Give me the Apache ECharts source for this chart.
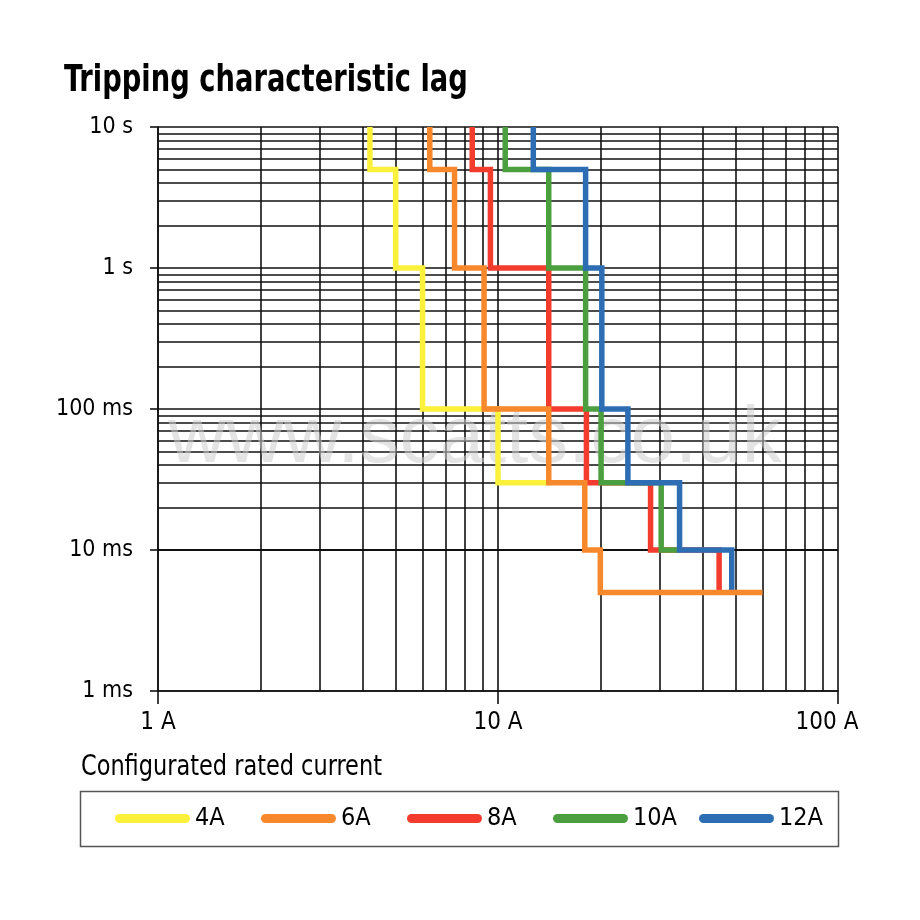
<!DOCTYPE html>
<html>
<head>
<meta charset="utf-8">
<title>Tripping characteristic lag</title>
<script src="https://cdn.jsdelivr.net/npm/echarts@6/dist/echarts.min.js"></script>
<style>
  html, body { margin: 0; padding: 0; background: #fff; }
  #chart { width: 920px; height: 920px; }
</style>
</head>
<body>
<div id="chart"></div>
<script>
var FONT = "'Liberation Sans Narrow', 'DejaVu Sans Condensed', 'Arial Narrow', sans-serif";

// rated current names
var ratings = ['4A', '6A', '8A', '10A', '12A'];
var colors = ['#fbf03a', '#f8882c', '#f33b2e', '#4b9f3f', '#2c6db4'];

// step curves: current (A) and tripping time (s)
var amps4  = [4.2, 4.2, 5, 5, 6, 6, 10, 10, 14.2];
var secs4  = [10, 5, 5, 1, 1, 0.1, 0.1, 0.03, 0.03];

var amps6  = [6.3, 6.3, 7.45, 7.45, 9.1, 9.1, 14.1, 14.1, 18, 18, 20, 20, 60];
var secs6  = [10, 5, 5, 1, 1, 0.1, 0.1, 0.03, 0.03, 0.01, 0.01, 0.005, 0.005];

var amps8  = [8.4, 8.4, 9.5, 9.5, 14.1, 14.1, 18.2, 18.2, 28.1, 28.1, 44.7, 44.7];
var secs8  = [10, 5, 5, 1, 1, 0.1, 0.1, 0.03, 0.03, 0.01, 0.01, 0.005];

var amps10 = [10.5, 10.5, 14.1, 14.1, 18.1, 18.1, 20.1, 20.1, 30.2, 30.2, 34.2];
var secs10 = [10, 5, 5, 1, 1, 0.1, 0.1, 0.03, 0.03, 0.01, 0.01];

var amps12 = [12.7, 12.7, 18.1, 18.1, 20.2, 20.2, 24.1, 24.1, 34.2, 34.2, 48.7, 48.7];
var secs12 = [10, 5, 5, 1, 1, 0.1, 0.1, 0.03, 0.03, 0.01, 0.01, 0.005];

// axis decades and labels
var xDecades = [1, 10];
var yDecades = [0.001, 0.01, 0.1, 1];
var minorSteps = [2, 3, 4, 5, 6, 7, 8, 9];
var yTickLabels = { 0.001: '1 ms', 0.01: '10 ms', 0.1: '100 ms', 1: '1 s', 10: '10 s' };

var GRID_W = 1.6;

var myChart = echarts.init(document.getElementById('chart'));

function pairs(xs, ys) {
  var out = [];
  for (var i = 0; i < xs.length; i++) out.push([xs[i], ys[i]]);
  return out;
}

// minor grid lines at 2..9 of every decade
var minorLines = [];
xDecades.forEach(function (d) {
  minorSteps.forEach(function (m) { minorLines.push({ xAxis: d * m }); });
});
yDecades.forEach(function (d) {
  minorSteps.forEach(function (m) { minorLines.push({ yAxis: d * m }); });
});

var curves = [pairs(amps4, secs4), pairs(amps6, secs6), pairs(amps8, secs8),
              pairs(amps10, secs10), pairs(amps12, secs12)];
var zOrder = [2, 6, 3, 4, 5];

var series = [{
  name: 'grid',
  type: 'line',
  data: [],
  z: 0,
  silent: true,
  markLine: {
    silent: true,
    animation: false,
    z: 0,
    symbol: ['none', 'none'],
    label: { show: false },
    lineStyle: { color: '#111', width: GRID_W, type: 'solid' },
    emphasis: { disabled: true },
    data: minorLines
  }
}];

curves.forEach(function (c, i) {
  series.push({
    name: ratings[i],
    type: 'line',
    data: c,
    z: zOrder[i],
    showSymbol: false,
    symbol: 'none',
    lineStyle: { color: colors[i], width: 5.5, join: 'miter', cap: 'butt' },
    itemStyle: { color: colors[i] },
    animation: false
  });
});

// one legend per rating so the slots are evenly spaced like the original
var legends = ratings.map(function (name, i) {
  return {
    data: [name],
    left: 115 + 146 * i,
    top: 806,
    padding: 0,
    itemWidth: 75,
    itemHeight: 9,
    icon: 'path://M4.5,0 H70.5 A4.5,4.5 0 0 1 70.5,9 H4.5 A4.5,4.5 0 0 1 4.5,0 Z',
    selectedMode: false,
    textStyle: { fontFamily: FONT, fontSize: 25, color: '#000' }
  };
});

var option = {
  backgroundColor: '#fff',
  animation: false,
  grid: { left: 158, right: 82, top: 127, bottom: 229, containLabel: false },
  legend: legends,
  graphic: [
    {
      type: 'text',
      left: 64,
      top: 62,
      scaleX: 0.8,
      style: { text: 'Tripping characteristic lag', font: "bold 38px " + FONT, fill: '#000' }
    },
    {
      type: 'text',
      left: 81,
      top: 753,
      scaleX: 0.86,
      style: { text: 'Configurated rated current', font: "29px " + FONT, fill: '#000' }
    },
    {
      type: 'rect',
      shape: { x: 80.5, y: 791.5, width: 758, height: 55 },
      style: { fill: 'none', stroke: '#555', lineWidth: 1.5 }
    },
    {
      type: 'text',
      z: 1,
      x: 475,
      y: 440,
      style: {
        text: 'www.scatts.co.uk',
        font: "80px 'Liberation Sans', Arial, sans-serif",
        fill: 'rgba(205,205,205,0.55)',
        align: 'center',
        verticalAlign: 'middle'
      }
    }
  ],
  xAxis: {
    type: 'log',
    logBase: 10,
    min: 1,
    max: 100,
    axisLine: { show: true, onZero: false, lineStyle: { color: '#111', width: GRID_W } },
    axisTick: { show: true, length: 13, lineStyle: { color: '#111', width: GRID_W } },
    splitLine: { show: true, lineStyle: { color: '#111', width: GRID_W } },
    axisLabel: {
      margin: 20,
      fontFamily: FONT,
      fontSize: 24,
      color: '#000',
      showMaxLabel: true,
      formatter: function (v) {
        if (v >= 100) return '{r|' + v + ' A}';
        return v + ' A';
      },
      rich: { r: { fontFamily: FONT, fontSize: 24, color: '#000', padding: [0, 22, 0, 0] } }
    }
  },
  yAxis: {
    type: 'log',
    logBase: 10,
    min: 0.001,
    max: 10,
    axisLine: { show: true, onZero: false, lineStyle: { color: '#111', width: GRID_W } },
    axisTick: { show: true, length: 8, lineStyle: { color: '#111', width: GRID_W } },
    splitLine: { show: true, lineStyle: { color: '#111', width: GRID_W } },
    axisLabel: {
      margin: 25,
      fontFamily: FONT,
      fontSize: 23,
      color: '#000',
      formatter: function (v) {
        var k = Math.round(Math.log10(v));
        return yTickLabels[Math.pow(10, k)] || '';
      }
    }
  },
  series: series
};

myChart.setOption(option);
window.addEventListener('resize', function () {
  myChart.resize();
});
</script>
</body>
</html>
